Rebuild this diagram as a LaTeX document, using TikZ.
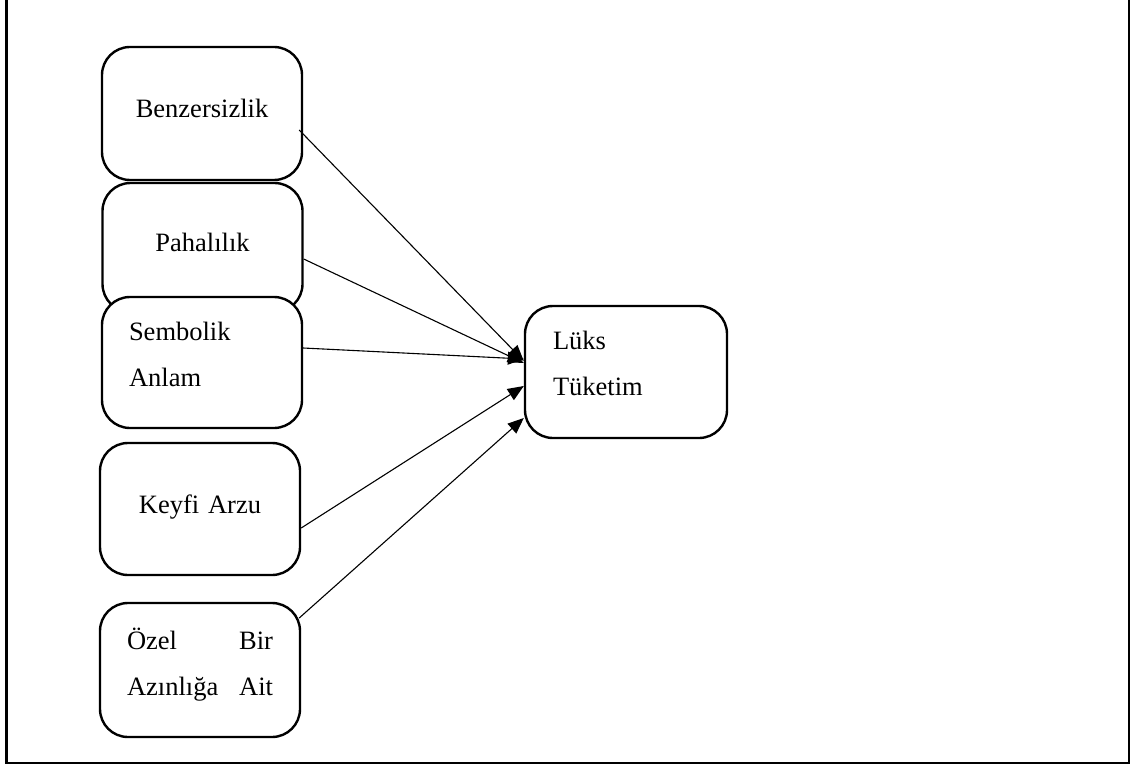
\documentclass[tikz,border=0pt]{standalone}
\usepackage{fontspec}
\setmainfont{Liberation Serif}
\usetikzlibrary{arrows.meta, calc}

\begin{document}
\begin{tikzpicture}[x=1pt, y=-1pt,
        box/.style={draw, line width=2.4pt, rounded corners=28pt, fill=white,
            text width=146pt, inner xsep=27pt, inner ysep=0pt, text depth=10pt,
            font=\fontsize{26.5}{46}\selectfont},
        twoline/.style={align=left, text depth=63pt},
        ok/.style={-{Triangle[length=16pt,width=13pt]}, line width=1.1pt}]
        \useasboundingbox (0,0) rectangle (1131,767);

        % Frame (top edge is cut off)
        \draw[line width=2.5pt] (6.3,0) -- (6.3,763) -- (1129,763) -- (1129,0);

        % Factor boxes
        \node[box, align=center, minimum height=133pt] (benz) at (202,113.5) {Benzersizlik};
        \node[box, align=center, minimum height=129pt] (paha) at (202.5,247.5) {Pahalılık};
        \node[box, twoline, minimum height=131pt] (semb) at (202,362.5) {Sembolik\\Anlam};
        \node[box, align=center, minimum height=132pt] (keyfi) at (200,509) {Keyfi Arzu};
        \node[box, twoline, minimum height=134pt] (ozel) at (200,670) {Özel \hfill Bir\\Azınlığa \hfill Ait};

        % Target box
        \node[box, twoline, inner xsep=28pt, minimum height=132pt] (luks) at (626,372) {Lüks\\Tüketim};

        % Arrows to the target
        \draw[ok] ($(benz.east)+(-4,16.5)$) -- ($(luks.west)+(0,-11)$);
        \draw[ok] ($(paha.east)+(0,11.5)$) -- ($(luks.west)+(0,-9)$);
        \draw[ok] ($(semb.east)+(0,-14.5)$) -- ($(luks.west)+(0,-13)$);
        \draw[ok] ($(keyfi.east)+(0,19)$) -- ($(luks.west)+(0,14)$);
        \draw[ok] ($(ozel.east)+(-2,-52)$) -- ($(luks.west)+(0,46)$);
    \end{tikzpicture}
\end{document}
